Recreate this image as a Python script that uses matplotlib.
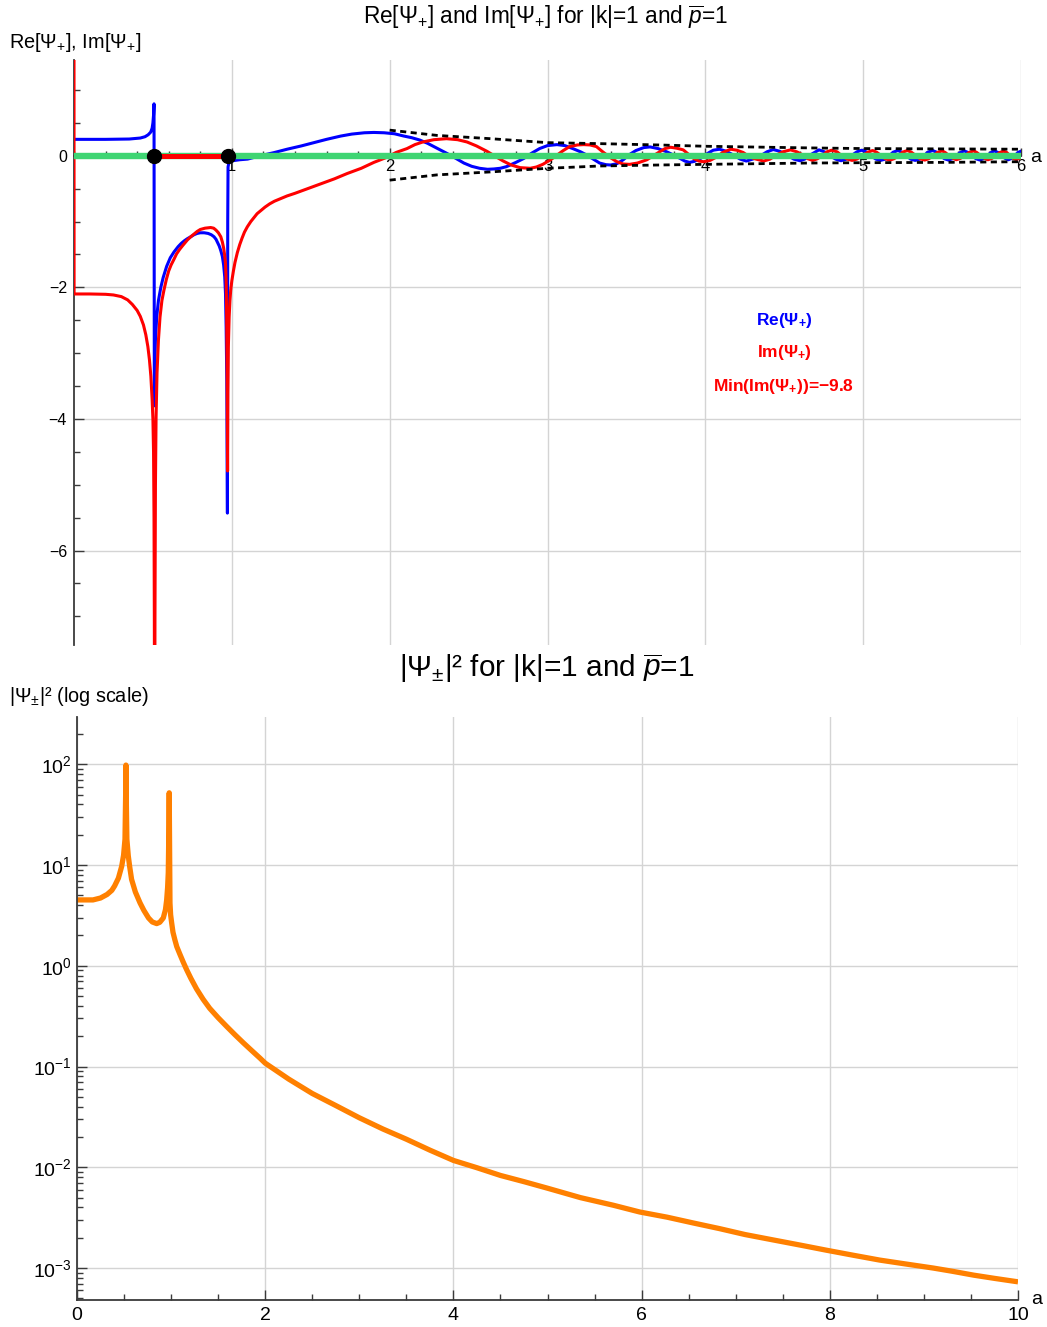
import matplotlib
matplotlib.use('Agg')
import matplotlib.pyplot as plt
from matplotlib.ticker import MultipleLocator, FixedLocator, LogLocator, NullFormatter

plt.rcParams['font.family'] = ['Liberation Sans', 'DejaVu Sans']
plt.rcParams['mathtext.fontset'] = 'custom'
plt.rcParams['mathtext.rm'] = 'Liberation Sans'
plt.rcParams['mathtext.it'] = 'Liberation Sans:italic'
plt.rcParams['mathtext.bf'] = 'Liberation Sans:bold'
plt.rcParams['axes.unicode_minus'] = True

# ---------------- data ----------------
# Re(Psi_+) : (a, value)
re_points = [
    (0.0, 0.25), (0.2, 0.25), (0.35, 0.255), (0.42, 0.27), (0.45, 0.29), (0.47, 0.32),
    (0.486, 0.36), (0.495, 0.42), (0.500, 0.50), (0.504, 0.62), (0.507, 0.79),
    (0.509, -3.8), (0.512, -3.2), (0.516, -2.8), (0.524, -2.45), (0.535, -2.2), (0.55, -2.0),
    (0.565, -1.85), (0.587, -1.68), (0.61, -1.55), (0.634, -1.46), (0.66, -1.38), (0.68, -1.33),
    (0.70, -1.29), (0.718, -1.26), (0.74, -1.23), (0.76, -1.20), (0.78, -1.18), (0.80, -1.17),
    (0.825, -1.17), (0.85, -1.18), (0.87, -1.20), (0.887, -1.23), (0.90, -1.27), (0.91, -1.32),
    (0.92, -1.37), (0.93, -1.44), (0.94, -1.53), (0.948, -1.66), (0.955, -1.84), (0.96, -2.1),
    (0.964, -2.6), (0.968, -3.4), (0.972, -5.43), (0.974, -1.0), (0.976, -0.17),
    (0.98, -0.12), (0.99, -0.08), (1.05, -0.06), (1.10, -0.05), (1.18, 0.0), (1.27, 0.05),
    (1.35, 0.10), (1.44, 0.15), (1.52, 0.20), (1.60, 0.25), (1.69, 0.30), (1.76, 0.33),
    (1.84, 0.35), (1.90, 0.355), (1.965, 0.35), (2.03, 0.335), (2.09, 0.30), (2.14, 0.275),
    (2.19, 0.24), (2.24, 0.19), (2.28, 0.14), (2.32, 0.09), (2.36, 0.04), (2.42, -0.04),
    (2.47, -0.11), (2.52, -0.16), (2.57, -0.19), (2.62, -0.205), (2.66, -0.20), (2.70, -0.19),
    (2.74, -0.165), (2.80, -0.10), (2.85, -0.04), (2.90, 0.04), (2.95, 0.11), (3.00, 0.155),
    (3.06, 0.17), (3.11, 0.155), (3.16, 0.11), (3.21, 0.06), (3.25, 0.01), (3.29, -0.05),
    (3.33, -0.11), (3.37, -0.135), (3.40, -0.14), (3.44, -0.12), (3.48, -0.06), (3.52, 0.02),
    (3.56, 0.08), (3.61, 0.125), (3.65, 0.135), (3.70, 0.11), (3.756, 0.06), (3.80, 0.01),
    (3.84, -0.04), (3.87, -0.08), (3.90, -0.10), (3.93, -0.085), (3.97, -0.04), (4.01, 0.03),
    (4.05, 0.085), (4.09, 0.10), (4.13, 0.07), (4.18, 0.01), (4.22, -0.05), (4.26, -0.08),
    (4.30, -0.05), (4.35, 0.00), (4.39, 0.06), (4.43, 0.095), (4.47, 0.07), (4.52, 0.01),
    (4.56, -0.05), (4.60, -0.075), (4.63, -0.05), (4.67, 0.02), (4.72, 0.09), (4.755, 0.06),
    (4.79, 0.0), (4.825, -0.05), (4.86, -0.075), (4.895, -0.05), (4.925, 0.0), (4.96, 0.06),
    (4.99, 0.085), (5.02, 0.06), (5.05, 0.0), (5.08, -0.05), (5.11, -0.07), (5.14, -0.05),
    (5.165, 0.0), (5.19, 0.055), (5.22, 0.08), (5.245, 0.055), (5.275, 0.0), (5.30, -0.05),
    (5.33, -0.07), (5.36, -0.05), (5.385, 0.0), (5.41, 0.055), (5.44, 0.08), (5.465, 0.055),
    (5.49, 0.0), (5.515, -0.045), (5.54, -0.065), (5.565, -0.045), (5.59, 0.0), (5.615, 0.05),
    (5.64, 0.075), (5.665, 0.05), (5.69, 0.0), (5.715, -0.045), (5.74, -0.065), (5.76, -0.045),
    (5.785, 0.0), (5.81, 0.05), (5.83, 0.075), (5.855, 0.05), (5.875, 0.0), (5.90, -0.04),
    (5.92, -0.06), (5.94, -0.04), (5.96, 0.0), (5.98, 0.05), (6.0, 0.07),
]

# Im(Psi_+) : (a, value)
im_points = [
    (0.0, 1.6), (0.0005, -2.1), (0.1, -2.10), (0.2, -2.105), (0.25, -2.115), (0.30, -2.14),
    (0.34, -2.19), (0.37, -2.26), (0.40, -2.35), (0.42, -2.44), (0.44, -2.57), (0.455, -2.72),
    (0.468, -2.90), (0.478, -3.10), (0.487, -3.35), (0.495, -3.70), (0.500, -4.0),
    (0.504, -4.5), (0.507, -5.5), (0.509, -7.0), (0.511, -9.8), (0.513, -7.0), (0.516, -5.0),
    (0.52, -3.97), (0.526, -3.3), (0.535, -2.8), (0.545, -2.45), (0.557, -2.2), (0.57, -2.04),
    (0.585, -1.88), (0.60, -1.75), (0.615, -1.66), (0.634, -1.57), (0.65, -1.49), (0.67, -1.42),
    (0.69, -1.36), (0.718, -1.28), (0.74, -1.23), (0.76, -1.19), (0.78, -1.15), (0.80, -1.12),
    (0.83, -1.10), (0.866, -1.09), (0.885, -1.10), (0.90, -1.13), (0.915, -1.17), (0.93, -1.23),
    (0.94, -1.31), (0.948, -1.40), (0.955, -1.52), (0.96, -1.64), (0.964, -1.9), (0.967, -2.4),
    (0.970, -3.3), (0.973, -4.79), (0.975, -3.6), (0.978, -2.9), (0.983, -2.45), (0.988, -2.2),
    (0.993, -2.04), (1.0, -1.9), (1.01, -1.75), (1.02, -1.62), (1.035, -1.47), (1.05, -1.35),
    (1.065, -1.25), (1.08, -1.16), (1.098, -1.08), (1.12, -1.0), (1.14, -0.94), (1.16, -0.88),
    (1.18, -0.84), (1.21, -0.78), (1.24, -0.73), (1.27, -0.69), (1.31, -0.65), (1.35, -0.61),
    (1.40, -0.57), (1.48, -0.50), (1.56, -0.43), (1.65, -0.35), (1.73, -0.27), (1.82, -0.19),
    (1.90, -0.10), (1.985, -0.02), (2.04, 0.05), (2.11, 0.11), (2.16, 0.17), (2.21, 0.21),
    (2.28, 0.245), (2.36, 0.26), (2.43, 0.245), (2.49, 0.21), (2.55, 0.15), (2.615, 0.07),
    (2.67, -0.01), (2.72, -0.08), (2.77, -0.14), (2.826, -0.18), (2.89, -0.19), (2.93, -0.17),
    (2.97, -0.13), (3.02, -0.06), (3.06, 0.01), (3.10, 0.08), (3.14, 0.14), (3.19, 0.165),
    (3.23, 0.17), (3.27, 0.165), (3.31, 0.14), (3.35, 0.06), (3.40, -0.03), (3.44, -0.09),
    (3.48, -0.125), (3.52, -0.13), (3.57, -0.11), (3.63, -0.06), (3.67, 0.00), (3.71, 0.06),
    (3.745, 0.11), (3.78, 0.13), (3.82, 0.115), (3.86, 0.09), (3.89, 0.03), (3.925, -0.04),
    (3.96, -0.08), (3.99, -0.09), (4.03, -0.07), (4.07, -0.02), (4.11, 0.05), (4.16, 0.10),
    (4.20, 0.085), (4.24, 0.05), (4.27, 0.00), (4.305, -0.04), (4.37, -0.08), (4.41, -0.05),
    (4.45, 0.01), (4.49, 0.06), (4.54, 0.09), (4.58, 0.06), (4.62, 0.01), (4.65, -0.045),
    (4.68, -0.07), (4.71, -0.045), (4.74, 0.0), (4.77, 0.06), (4.80, 0.085), (4.835, 0.06),
    (4.865, 0.0), (4.90, -0.05), (4.93, -0.07), (4.96, -0.05), (4.995, 0.0), (5.03, 0.055),
    (5.06, 0.08), (5.085, 0.055), (5.115, 0.0), (5.14, -0.045), (5.17, -0.065), (5.195, -0.045),
    (5.225, 0.0), (5.25, 0.055), (5.28, 0.08), (5.305, 0.055), (5.335, 0.0), (5.36, -0.045),
    (5.39, -0.065), (5.415, -0.045), (5.445, 0.0), (5.47, 0.05), (5.50, 0.075), (5.52, 0.05),
    (5.545, 0.0), (5.57, -0.04), (5.59, -0.06), (5.615, -0.04), (5.645, 0.0), (5.67, 0.05),
    (5.70, 0.075), (5.72, 0.05), (5.745, 0.0), (5.77, -0.04), (5.79, -0.06), (5.815, -0.04),
    (5.84, 0.0), (5.865, 0.05), (5.89, 0.07), (5.91, 0.05), (5.93, 0.0), (5.95, -0.04),
    (5.97, -0.055), (5.99, -0.04), (6.0, -0.03),
]

# dotted envelope
env_x = [2.0, 2.3, 2.64, 3.0, 3.33, 3.7, 4.0, 4.66, 5.0, 5.5, 6.0]
env_upper = [0.39, 0.31, 0.26, 0.20, 0.185, 0.165, 0.145, 0.12, 0.11, 0.105, 0.10]
env_lower = [-0.37, -0.29, -0.245, -0.19, -0.155, -0.14, -0.13, -0.11, -0.105, -0.10, -0.09]

# poles (black dots) and the Im segment lying on the axis between them
pole_x = [0.507, 0.975]
pole_y = [0.0, 0.0]
seg_y = [0.0, 0.0]
im_min_value = -9.8

# |Psi|^2 (log scale)
abs_points = [
    (0.0, 4.5), (0.17, 4.5), (0.25, 4.7), (0.32, 5.1), (0.37, 5.6), (0.40, 6.2), (0.44, 7.4),
    (0.475, 9.7), (0.495, 12.5), (0.51, 18.0), (0.517, 50.0), (0.52, 98.0), (0.523, 50.0),
    (0.53, 18.0), (0.545, 12.3), (0.56, 9.6), (0.58, 7.2), (0.62, 5.4), (0.67, 4.2),
    (0.71, 3.55), (0.76, 2.98), (0.80, 2.72), (0.847, 2.62), (0.88, 2.70), (0.917, 2.98),
    (0.94, 3.6), (0.953, 4.5), (0.963, 6.0), (0.97, 8.4), (0.977, 25.0), (0.98, 52.0),
    (0.983, 20.0), (0.988, 4.2), (0.995, 3.2), (1.006, 2.66), (1.02, 2.15), (1.04, 1.81),
    (1.06, 1.55), (1.095, 1.29), (1.13, 1.08), (1.166, 0.91), (1.21, 0.75), (1.27, 0.59),
    (1.34, 0.465), (1.41, 0.378), (1.50, 0.305), (1.59, 0.250), (1.68, 0.206), (1.77, 0.171),
    (1.86, 0.143), (1.945, 0.121), (2.0, 0.108), (2.25, 0.075), (2.5, 0.054), (2.75, 0.041),
    (3.0, 0.031), (3.25, 0.024), (3.5, 0.019), (3.75, 0.0148), (4.0, 0.0117), (4.25, 0.0099),
    (4.5, 0.0083), (4.75, 0.0072), (5.0, 0.0062), (5.35, 0.0050), (5.70, 0.0042),
    (5.98, 0.0036), (6.27, 0.0032), (6.55, 0.0028), (6.83, 0.00246), (7.10, 0.00215),
    (7.40, 0.0019), (7.70, 0.00168), (7.97, 0.0015), (8.25, 0.00134), (8.53, 0.0012),
    (8.80, 0.0011), (9.10, 0.0010), (9.30, 0.00093), (9.53, 0.00085), (9.75, 0.00079),
    (10.0, 0.00073),
]

re_x, re_y = zip(*re_points)
im_x, im_y = zip(*im_points)
abs_x, abs_y = zip(*abs_points)

# ---------------- figure ----------------
W, H = 1047, 1327
fig = plt.figure(figsize=(W / 100, H / 100), dpi=100)


def rect(l, t, r, b):
    return [l / W, 1 - b / H, (r - l) / W, (b - t) / H]


def fx(px):
    return px / W


def fy(py):
    return 1 - py / H


BLUE = '#0000ff'
RED = '#ff0000'
GREEN = '#3fd573'
ORANGE = '#ff8000'
GRID = '#d4d4d4'
AXC = '#3a3a3a'

# ---- top panel ----
ax1 = fig.add_axes(rect(74, 60, 1021, 645))
ax1.set_xlim(0, 6)
ax1.set_ylim(-7.435, 1.456)
for s in ('top', 'right'):
    ax1.spines[s].set_visible(False)
ax1.spines['bottom'].set_position(('data', 0))
for s in ('left', 'bottom'):
    ax1.spines[s].set_color(AXC)
    ax1.spines[s].set_linewidth(1.3)
ax1.spines['left'].set_zorder(3.05)
ax1.xaxis.set_major_locator(FixedLocator([1, 2, 3, 4, 5, 6]))
ax1.xaxis.set_minor_locator(MultipleLocator(0.2))
ax1.yaxis.set_major_locator(FixedLocator([-6, -4, -2, 0]))
ax1.yaxis.set_minor_locator(MultipleLocator(0.5))
ax1.tick_params(which='both', direction='in', color=AXC, width=1.0)
ax1.tick_params(axis='x', which='major', length=6, labelsize=12, pad=2)
ax1.tick_params(axis='x', which='minor', length=3.5)
ax1.tick_params(axis='y', which='major', length=7, labelsize=11.5, pad=5)
ax1.tick_params(axis='y', which='minor', length=4)
ax1.grid(True, which='major', color=GRID, linewidth=1.0)
ax1.set_axisbelow(True)

ax1.plot(re_x, re_y, color=BLUE, lw=2.2, zorder=3, solid_joinstyle='round')
ax1.plot(im_x, im_y, color=RED, lw=2.2, zorder=3.1, solid_joinstyle='round', alpha=1.0)
ax1.plot(env_x, env_upper, color='black', lw=2.0, ls=(0, (2.2, 1.6)), zorder=3.5)
ax1.plot(env_x, env_lower, color='black', lw=2.0, ls=(0, (2.2, 1.6)), zorder=3.5)
ax1.axhline(0, color=GREEN, lw=4.6, zorder=4)
ax1.plot(pole_x, seg_y, color=RED, lw=3.6, zorder=4.5, solid_capstyle='butt')
ax1.plot(pole_x, pole_y, 'o', color='black', ms=10, zorder=5, clip_on=False)

fig.text(fx(1030), fy(157), 'a', fontsize=14, ha='left', va='center')
fig.text(fx(546), fy(17), r'Re[$\Psi_{+}$] and Im[$\Psi_{+}$] for |k|=1 and $\overline{p}$=1',
         fontsize=16.3, ha='center', va='center')
fig.text(fx(9), fy(42), r'Re[$\Psi_{+}$], Im[$\Psi_{+}$]', fontsize=14.3, ha='left', va='center')

leg_kw = dict(fontsize=12.5, fontweight='bold', ha='center', va='center')
fig.text(fx(784), fy(320), r'Re(Ψ$_\mathbf{+}$)', color=BLUE, **leg_kw)
fig.text(fx(784), fy(353), r'Im(Ψ$_\mathbf{+}$)', color=RED, **leg_kw)
fig.text(fx(784), fy(386),
         r'Min(Im(Ψ$_\mathbf{+}$))=' + ('%.1f' % im_min_value).replace('-', '\u2212'),
         color=RED, **leg_kw)

# ---- bottom panel ----
ax2 = fig.add_axes(rect(77, 717, 1018, 1300))
ax2.set_yscale('log')
ax2.set_xlim(0, 10)
ax2.set_ylim(4.82e-4, 294)
for s in ('top', 'right'):
    ax2.spines[s].set_visible(False)
for s in ('left', 'bottom'):
    ax2.spines[s].set_color(AXC)
    ax2.spines[s].set_linewidth(1.3)
ax2.xaxis.set_major_locator(MultipleLocator(2))
ax2.xaxis.set_minor_locator(MultipleLocator(0.5))
ax2.yaxis.set_major_locator(LogLocator(base=10, numticks=20))
ax2.yaxis.set_minor_locator(LogLocator(base=10, subs=range(2, 10), numticks=20))
ax2.yaxis.set_minor_formatter(NullFormatter())
ax2.tick_params(which='both', direction='in', color=AXC, width=1.0)
ax2.tick_params(which='major', length=7, labelsize=14)
ax2.tick_params(which='minor', length=4)
ax2.tick_params(axis='x', pad=5)
ax2.grid(True, which='major', color=GRID, linewidth=1.0)
ax2.set_axisbelow(True)

ax2.plot(abs_x, abs_y, color=ORANGE, lw=3.8, solid_joinstyle='round', solid_capstyle='butt')

fig.text(fx(1031), fy(1299), 'a', fontsize=14, ha='left', va='center')
fig.text(fx(547), fy(668), r'|$\Psi_{\pm}$|² for |k|=1 and $\overline{p}$=1',
         fontsize=21.4, ha='center', va='center')
fig.text(fx(9), fy(697), r'|$\Psi_{\pm}$|² (log scale)', fontsize=14.3, ha='left', va='center')

fig.savefig('out.png', dpi=100)
